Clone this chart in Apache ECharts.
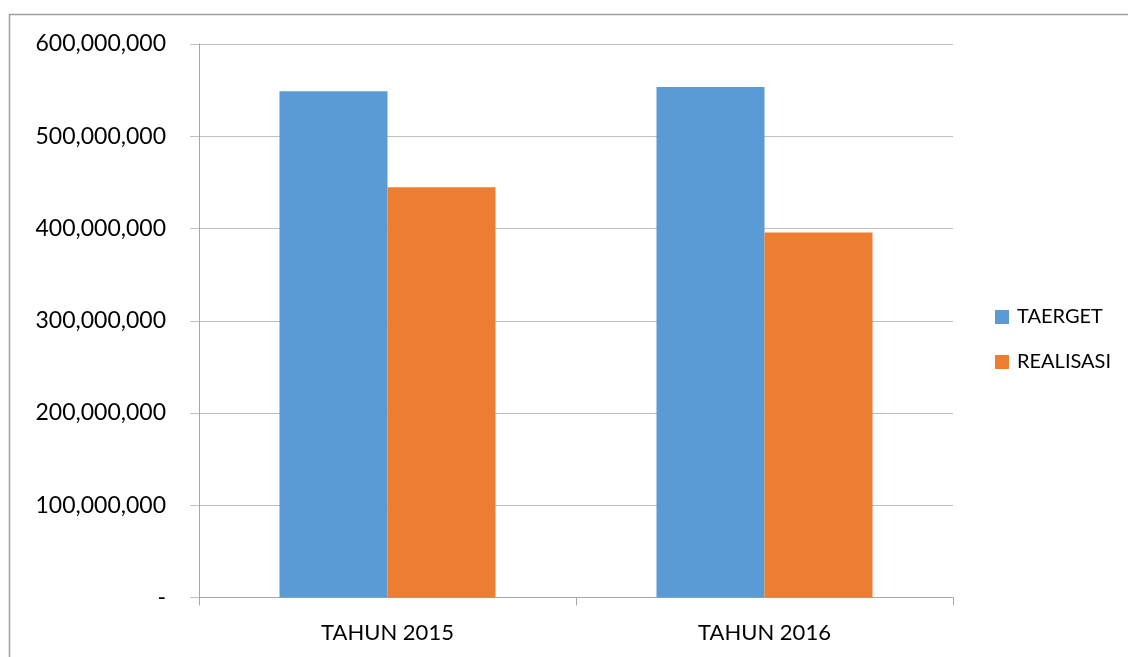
<!DOCTYPE html>
<html>
<head>
<meta charset="utf-8">
<script src="https://cdn.jsdelivr.net/npm/echarts@6/dist/echarts.min.js"></script>
<style>
  html, body { margin: 0; padding: 0; background: #fff; }
  #chart { width: 1128px; height: 657px; }
</style>
</head>
<body>
<div id="chart"></div>
<script>
// Target vs realisation per year
const categories = ['TAHUN 2015', 'TAHUN 2016'];
const seriesNames = ['TAERGET', 'REALISASI'];
const targetValues = [548800000, 553400000];
const realisasiValues = [444700000, 395700000];
const yTicks = { min: 0, max: 600000000, interval: 100000000 };

const FONT = 'Lato, "Open Sans", "Liberation Sans", sans-serif';

function formatTick(v) {
  if (v === 0) return '-';
  return String(Math.round(v)).replace(/\B(?=(\d{3})+(?!\d))/g, ',');
}

const chart = echarts.init(document.getElementById('chart'), null, { renderer: 'canvas' });
chart.setOption({
  animation: false,
  backgroundColor: '#ffffff',
  color: ['#5b9bd5', '#ed7d31'],
  graphic: [{
    type: 'rect',
    shape: { x: 9.5, y: 14.5, width: 1200, height: 700 },
    style: { fill: 'none', stroke: '#a0a0a0', lineWidth: 1.5 },
    silent: true
  }],
  grid: { left: 199, right: 175, top: 44, bottom: 59.5 },
  legend: {
    data: seriesNames,
    orient: 'vertical',
    left: 995,
    top: 307,
    padding: 0,
    itemWidth: 14,
    itemHeight: 14,
    itemGap: 25,
    icon: 'rect',
    textStyle: { fontFamily: FONT, fontSize: 20, color: '#000', padding: [0, 0, 0, 3] }
  },
  xAxis: {
    type: 'category',
    data: categories,
    axisLine: { lineStyle: { color: '#a6a6a6', width: 1 } },
    axisTick: { show: true, length: 8, lineStyle: { color: '#a6a6a6' } },
    axisLabel: { margin: 24, fontFamily: FONT, fontSize: 22, color: '#000' },
    splitLine: { show: false }
  },
  yAxis: {
    type: 'value',
    min: yTicks.min,
    max: yTicks.max,
    interval: yTicks.interval,
    axisLine: { show: true, lineStyle: { color: '#a6a6a6', width: 1 } },
    axisTick: { show: true, length: 9, lineStyle: { color: '#bfbfbf' } },
    axisLabel: { margin: 33, fontFamily: FONT, fontSize: 23, color: '#000', formatter: formatTick },
    splitLine: { show: true, lineStyle: { color: '#bfbfbf', width: 1 } }
  },
  series: [
    {
      name: seriesNames[0],
      type: 'bar',
      data: targetValues,
      barGap: '0%',
      barCategoryGap: '42.7%',
      itemStyle: { color: '#5b9bd5' }
    },
    {
      name: seriesNames[1],
      type: 'bar',
      data: realisasiValues,
      barGap: '0%',
      barCategoryGap: '42.7%',
      itemStyle: { color: '#ed7d31' }
    }
  ]
});
</script>
</body>
</html>
